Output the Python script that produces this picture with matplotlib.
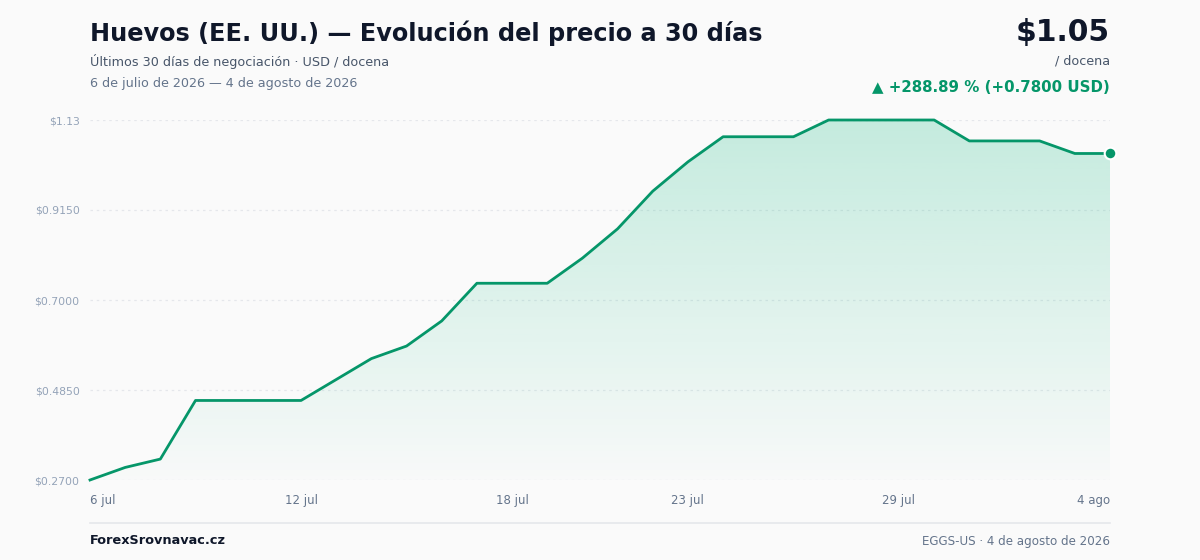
import matplotlib
matplotlib.use("Agg")
import matplotlib.pyplot as plt
import numpy as np

# precio diario (USD / docena), 6 jul -> 4 ago 2026
prices = [0.27, 0.30, 0.32, 0.46, 0.46, 0.46, 0.46, 0.51, 0.56, 0.59,
          0.65, 0.74, 0.74, 0.74, 0.80, 0.87, 0.96, 1.03, 1.09, 1.09,
          1.09, 1.13, 1.13, 1.13, 1.13, 1.08, 1.08, 1.08, 1.05, 1.05]
tick_days = [0, 6, 12, 17, 23, 29]
tick_labels = ["6 jul", "12 jul", "18 jul", "23 jul", "29 jul", "4 ago"]
y_ticks = [0.27, 0.485, 0.70, 0.915, 1.13]
y_labels = ["$0.2700", "$0.4850", "$0.7000", "$0.9150", "$1.13"]

LINE = "#059669"
FILL = "#10b981"
BG = "#fafafa"
W, H = 1200, 560

plt.rcParams["font.family"] = ["DejaVu Sans"]

fig = plt.figure(figsize=(W / 100, H / 100), dpi=100, facecolor=BG)
ax = fig.add_axes([90 / W, 1 - 480 / H, 1020 / W, 360 / H])
ax.set_facecolor(BG)

x = np.arange(len(prices))
ymin, ymax = min(prices), max(prices)
ax.set_xlim(0, len(prices) - 1)
ax.set_ylim(ymin, ymax)

# relleno con degradado vertical
poly = ax.fill_between(x, prices, ymin, color="none", lw=0)
grad = np.zeros((256, 1, 4))
grad[:, :, :3] = matplotlib.colors.to_rgb(FILL)
grad[:, 0, 3] = np.linspace(0.23, 0.01, 256)
img = ax.imshow(grad, aspect="auto", extent=[0, len(prices) - 1, ymin, ymax],
                origin="upper", zorder=1)
img.set_clip_path(poly.get_paths()[0], transform=ax.transData)

ax.plot(x, prices, color=LINE, lw=2, zorder=3, clip_on=False,
        solid_joinstyle="round")
ax.scatter([x[-1]], [prices[-1]], s=70, color=LINE, edgecolor="white",
           linewidth=1.5, zorder=4, clip_on=False)

# grid
for yv in y_ticks:
    ax.axhline(yv, color="#e5e7eb", lw=0.9, ls=(0, (2, 3)), zorder=0)

ax.set_yticks(y_ticks)
ax.set_yticklabels(y_labels, fontsize=7.8, color="#94a3b8")
ax.set_xticks(tick_days)
ax.set_xticklabels(tick_labels, fontsize=8.5, color="#64748b")
ax.tick_params(axis="y", length=0, pad=7.5)
ax.tick_params(axis="x", length=0, pad=10)
labels = ax.get_xticklabels()
labels[0].set_ha("left")
labels[-1].set_ha("right")
for s in ax.spines.values():
    s.set_visible(False)

# textos de cabecera
def fx(px):
    return px / W

def fy(py):
    return 1 - py / H

fig.text(fx(90), fy(33), "Huevos (EE. UU.) — Evolución del precio a 30 días",
         fontsize=17.3, fontweight="bold", color="#0f172a", va="center")
fig.text(fx(90), fy(61), "Últimos 30 días de negociación · USD / docena",
         fontsize=9.2, color="#475569", va="center")
fig.text(fx(90), fy(83), "6 de julio de 2026 — 4 de agosto de 2026",
         fontsize=9.2, color="#64748b", va="center")

fig.text(fx(1110), fy(32), "$1.05", fontsize=21.5, fontweight="bold",
         color="#0f172a", va="center", ha="right")
fig.text(fx(1110), fy(61), "/ docena", fontsize=9.2, color="#475569",
         va="center", ha="right")
fig.text(fx(1110), fy(87), "▲ +288.89 % (+0.7800 USD)", fontsize=10.8,
         fontweight="bold", color=LINE, va="center", ha="right")

# pie
fig.add_artist(plt.Line2D([fx(90), fx(1110)], [fy(523), fy(523)],
                          color="#e5e7eb", lw=1.2))
fig.text(fx(90), fy(541), "ForexSrovnavac.cz", fontsize=9.3,
         fontweight="bold", color="#0f172a", va="center")
fig.text(fx(1110), fy(541), "EGGS-US · 4 de agosto de 2026", fontsize=8.6,
         color="#64748b", va="center", ha="right")

fig.savefig("out.png", dpi=100, facecolor=BG)
